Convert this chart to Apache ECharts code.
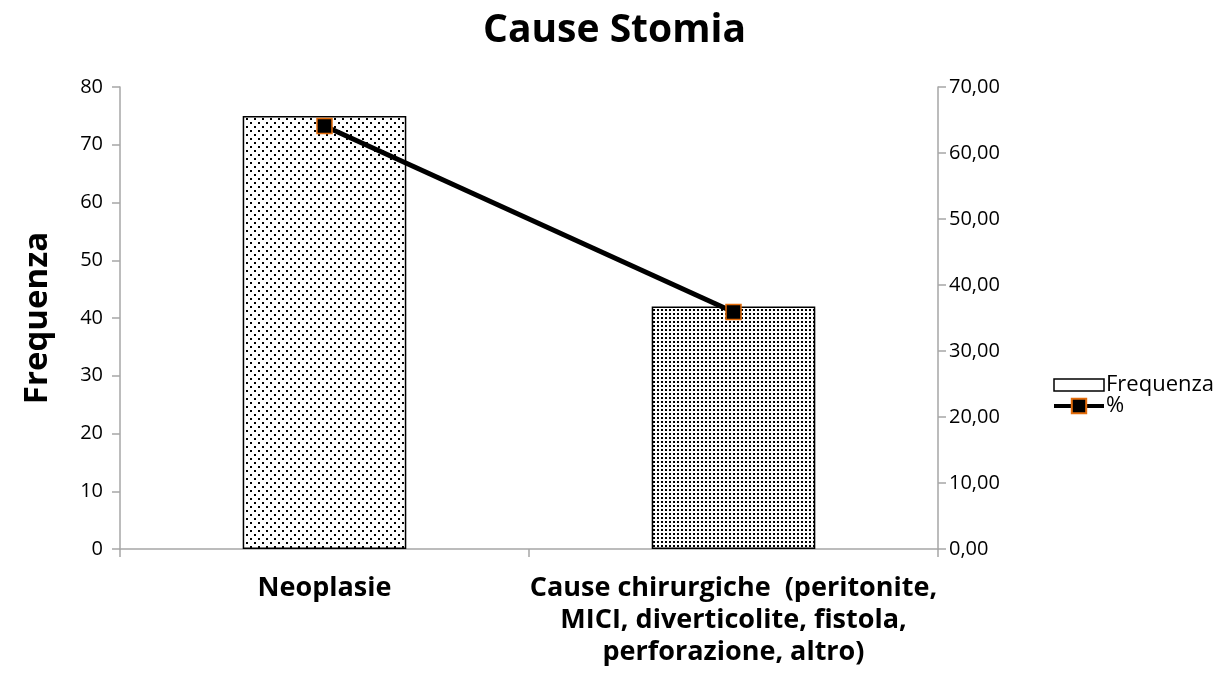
<!DOCTYPE html>
<html>
<head>
<meta charset="utf-8">
<script src="https://cdn.jsdelivr.net/npm/echarts@6/dist/echarts.min.js"></script>
<style>
  html, body { margin: 0; padding: 0; background: #fff; }
  #chart { width: 1229px; height: 684px; }
</style>
</head>
<body>
<div id="chart"></div>
<script>
// Causes of stoma: absolute frequency (bars) and percentage (line)
const categories = [
  'Neoplasie',
  'Cause chirurgiche  (peritonite,\nMICI, diverticolite, fistola,\nperforazione, altro)'
];
const frequenza = [75, 42];
const percentuale = [64.10, 35.90];

const FONT = '"Open Sans", Lato, sans-serif';
const AXIS_GRAY = '#a6a6a6';

// Dotted fill patterns for the two bars
function dotPattern(tile, dots) {
  const c = document.createElement('canvas');
  c.width = tile; c.height = tile;
  const ctx = c.getContext('2d');
  ctx.fillStyle = '#fff';
  ctx.fillRect(0, 0, tile, tile);
  ctx.fillStyle = '#000';
  dots.forEach(([x, y]) => ctx.fillRect(x, y, 2, 2));
  return { image: c, repeat: 'repeat' };
}
const sparse = dotPattern(8, [[2, 2], [6, 6]]);
const dense = dotPattern(4, [[1, 1]]);
const patterns = [sparse, dense];

const chart = echarts.init(document.getElementById('chart'));
chart.setOption({
  backgroundColor: '#fff',
  animation: false,
  title: {
    text: 'Cause Stomia',
    left: 'center',
    top: 6,
    textStyle: { fontFamily: FONT, fontWeight: 'bold', fontSize: 39, color: '#000' }
  },
  legend: {
    orient: 'vertical',
    left: 1052,
    top: 374,
    padding: 0,
    itemGap: -1,
    itemWidth: 50,
    itemHeight: 18,
    symbolKeepAspect: true,
    textStyle: { fontFamily: FONT, fontSize: 22, color: '#000', padding: [0, 0, 0, -3] },
    data: [
      { name: 'Frequenza', icon: 'path://M0,0h50v12h-50z',
        itemStyle: { color: '#fff', borderColor: '#000', borderWidth: 1.5 } },
      { name: '%', lineStyle: { width: 4, color: '#000' } }
    ]
  },
  grid: { left: 120, right: 291, top: 87, bottom: 135 },
  xAxis: {
    type: 'category',
    data: categories,
    axisLine: { lineStyle: { color: AXIS_GRAY, width: 1.5 } },
    axisTick: { show: true, length: 8, lineStyle: { color: AXIS_GRAY, width: 1.5 } },
    axisLabel: {
      fontFamily: FONT, fontWeight: 'bold', fontSize: 27, color: '#000',
      lineHeight: 32, margin: 23, interval: 0
    }
  },
  yAxis: [
    {
      type: 'value',
      min: 0, max: 80, interval: 10,
      name: 'Frequenza',
      nameLocation: 'middle',
      nameGap: 66,
      nameRotate: 90,
      nameTextStyle: { fontFamily: FONT, fontWeight: 'bold', fontSize: 33, color: '#000' },
      axisLine: { show: true, lineStyle: { color: AXIS_GRAY, width: 1.5 } },
      axisTick: { show: true, length: 8, lineStyle: { color: AXIS_GRAY, width: 1.5 } },
      axisLabel: { fontFamily: FONT, fontSize: 20, color: '#000', margin: 17 },
      splitLine: { show: false }
    },
    {
      type: 'value',
      min: 0, max: 70, interval: 10,
      position: 'right',
      axisLine: { show: true, lineStyle: { color: AXIS_GRAY, width: 1.5 } },
      axisTick: { show: true, length: 8, lineStyle: { color: AXIS_GRAY, width: 1.5 } },
      axisLabel: {
        fontFamily: FONT, fontSize: 20, color: '#000', margin: 11,
        formatter: v => v.toFixed(2).replace('.', ',')
      },
      splitLine: { show: false }
    }
  ],
  series: [
    {
      name: 'Frequenza',
      type: 'bar',
      yAxisIndex: 0,
      barWidth: '40%',
      data: frequenza.map((v, i) => ({
        value: v,
        itemStyle: { color: patterns[i], borderColor: '#000', borderWidth: 1.5 }
      })),
      itemStyle: { color: '#fff', borderColor: '#000', borderWidth: 1.5 }
    },
    {
      name: '%',
      type: 'line',
      yAxisIndex: 1,
      data: percentuale,
      symbol: 'rect',
      symbolSize: 15,
      lineStyle: { color: '#000', width: 5 },
      itemStyle: { color: '#000', borderColor: '#e46c0a', borderWidth: 1.5 },
      z: 5
    }
  ]
});
</script>
</body>
</html>
